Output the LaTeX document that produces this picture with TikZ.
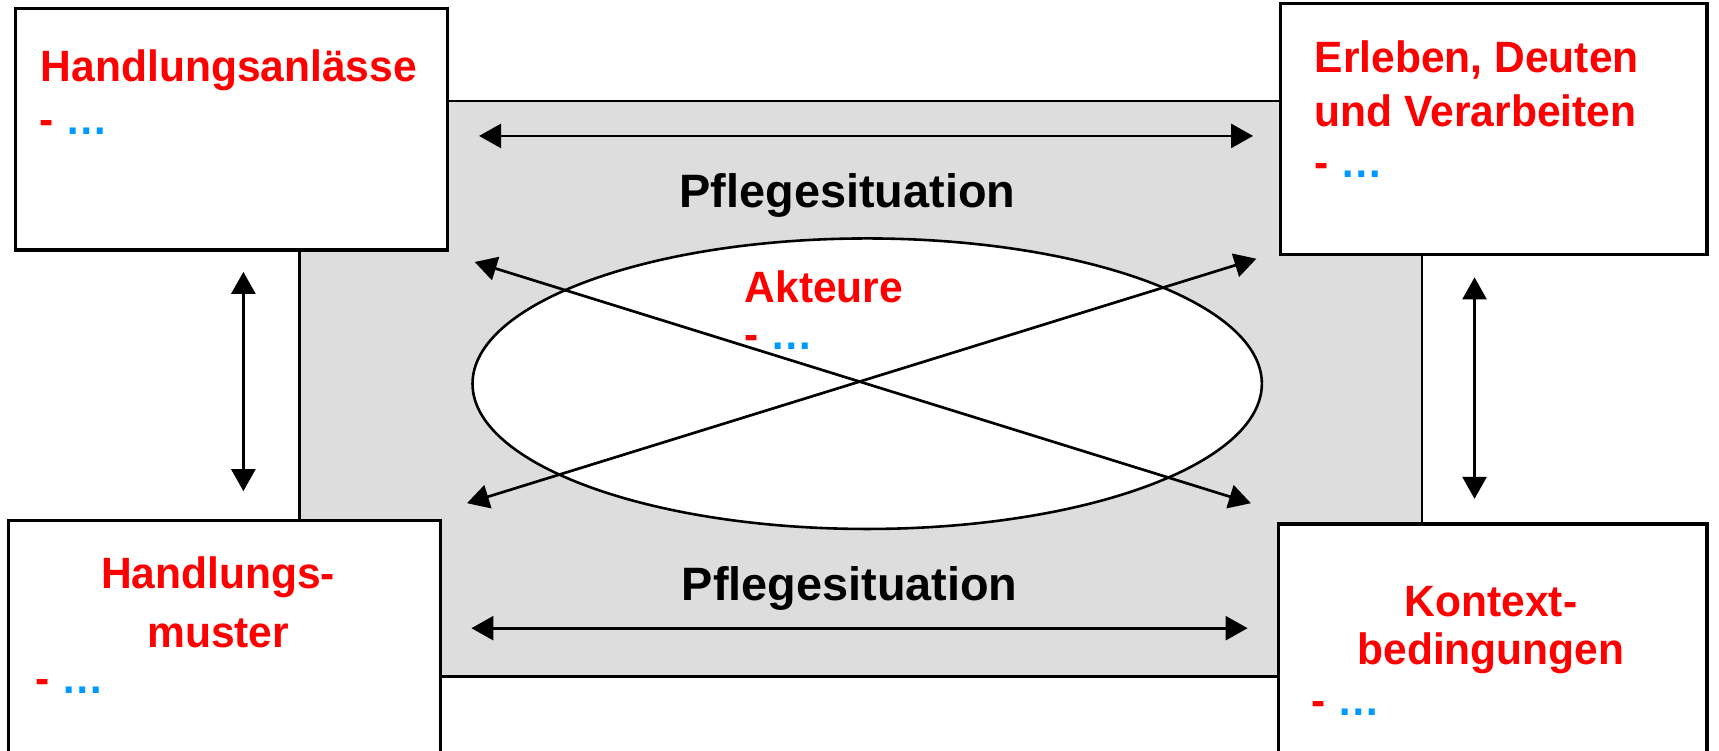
\documentclass[tikz,border=0pt]{standalone}
\usepackage{fontspec}
\setmainfont{Liberation Sans}
\newfontfamily\redfont[FakeStretch=0.97]{Liberation Sans}
\usetikzlibrary{arrows.meta,fit,shapes.geometric}
\definecolor{redtxt}{RGB}{255,0,0}
\definecolor{bluedots}{RGB}{0,153,255}
\definecolor{grayfill}{RGB}{221,221,221}
\begin{document}
\begin{tikzpicture}[x=0.55pt,y=-0.55pt,
  box/.style={draw=black,line width=1.6pt,fill=white,inner sep=0pt},
  situation/.style={draw=black,line width=1.3pt,fill=grayfill,inner sep=0pt},
  redt/.style={text=redtxt,font=\redfont\fontsize{22}{26}\selectfont\bfseries,inner sep=0pt},
  blackt/.style={text=black,font=\fontsize{23.5}{28}\selectfont\bfseries,inner sep=0pt},
  itemt/.style={font=\redfont\fontsize{22}{26}\selectfont\bfseries,inner sep=0pt,anchor=base west},
  arr/.style={line width=1.35pt,{Triangle[length=11pt,width=12pt]}-{Triangle[length=11pt,width=12pt]}}
]
\useasboundingbox (0,0) rectangle (1568,685);
% grey situation field
\coordinate (g1) at (273,92);
\coordinate (g2) at (1297,617);
\node[situation,fit=(g1)(g2)] (field) {};
% boxes
\coordinate (a1) at (14,8);   \coordinate (a2) at (408,228);
\coordinate (b1) at (1168,3); \coordinate (b2) at (1557,232);
\coordinate (c1) at (8,475);  \coordinate (c2) at (402,720);
\coordinate (d1) at (1166,478); \coordinate (d2) at (1557,720);
\node[box,fit=(a1)(a2)] (anlass) {};
\node[box,fit=(b1)(b2)] (erleben) {};
\node[box,fit=(c1)(c2)] (muster) {};
\node[box,fit=(d1)(d2)] (kontext) {};
% ellipse
\node[ellipse,draw=black,line width=1.3pt,fill=white,inner sep=0pt,
      minimum width=396pt,minimum height=145.75pt] (akteure) at (791,350) {};
% texts
\node[redt,anchor=west] (t1) at (37,64) {Handlungsanlässe};
\node[itemt] (i1) at (36,123) {\textcolor{redtxt}{-} \textcolor{bluedots}{…}};
\node[redt,anchor=west] (t2a) at (1199,55) {Erleben, Deuten};
\node[redt,anchor=west] (t2b) at (1199,101) {und Verarbeiten};
\node[itemt] (i2) at (1199,162) {\textcolor{redtxt}{-} \textcolor{bluedots}{…}};
\node[redt] (t3a) at (199,527) {Handlungs-};
\node[redt] (t3b) at (199,578) {muster};
\node[itemt] (i3) at (32,633) {\textcolor{redtxt}{-} \textcolor{bluedots}{…}};
\node[redt] (t4a) at (1360,549) {Kontext-};
\node[redt] (t4b) at (1360,596) {bedingungen};
\node[itemt] (i4) at (1196,653) {\textcolor{redtxt}{-} \textcolor{bluedots}{…}};
\node[redt,anchor=west] (t5) at (679,262) {Akteure};
\node[itemt] (i5) at (679,319) {\textcolor{redtxt}{-} \textcolor{bluedots}{…}};
\node[blackt] (p1) at (773,178) {Pflegesituation};
\node[blackt] (p2) at (775,537) {Pflegesituation};
% arrow end points
\coordinate (h1l) at (437,124);  \coordinate (h1r) at (1143,124);
\coordinate (h2l) at (430,573);  \coordinate (h2r) at (1138,573);
\coordinate (v1t) at (222,248);  \coordinate (v1b) at (222,448);
\coordinate (v2t) at (1345,253); \coordinate (v2b) at (1345,455);
\coordinate (d1s) at (433,239);  \coordinate (d1e) at (1141,459);
\coordinate (d2s) at (426,459);  \coordinate (d2e) at (1146,236);
\draw[arr] (h1l) -- (h1r);
\draw[arr] (h2l) -- (h2r);
\draw[arr] (v1t) -- (v1b);
\draw[arr] (v2t) -- (v2b);
\draw[arr] (d1s) -- (d1e);
\draw[arr] (d2s) -- (d2e);
\end{tikzpicture}
\end{document}
